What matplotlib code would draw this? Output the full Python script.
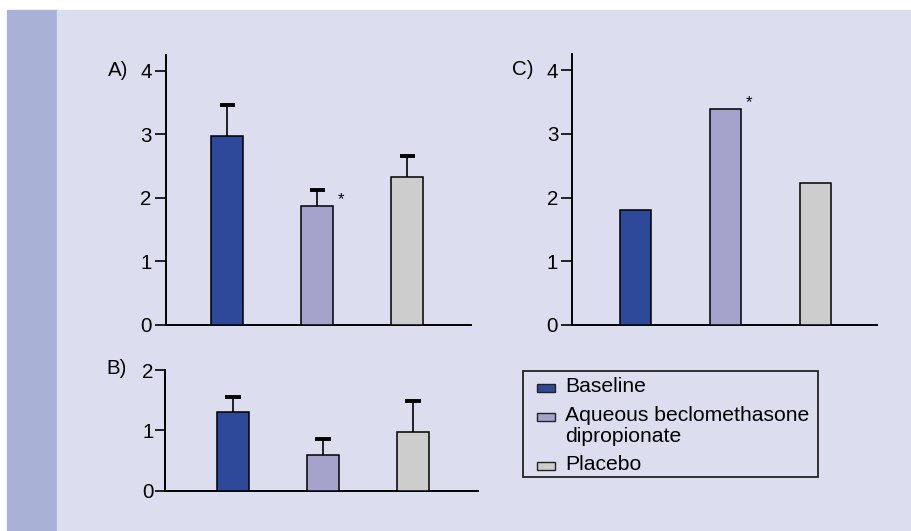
import matplotlib
matplotlib.use("Agg")
import matplotlib.pyplot as plt
from matplotlib.patches import Rectangle
import numpy as np

plt.rcParams['font.family'] = ['Liberation Sans', 'DejaVu Sans']

# data
groups = ["Baseline", "Aqueous beclomethasone\ndipropionate", "Placebo"]
colors = ["#2e4999", "#a5a3cc", "#cdcdcd"]

a_vals = [2.98, 1.88, 2.33]
a_err = [0.49, 0.24, 0.33]
b_vals = [1.30, 0.59, 0.97]
b_err = [0.25, 0.27, 0.51]
c_vals = [1.81, 3.39, 2.23]

W, H = 912, 531
fig = plt.figure(figsize=(W / 100, H / 100), dpi=100)
fig.patch.set_facecolor("white")


def fx(x):
    return x / W


def fy(y):
    return 1 - y / H


bg = "#dcdeef"
fig.patches.append(Rectangle((fx(7), 0), fx(57 - 7), fy(10),
                             transform=fig.transFigure, color="#a9b1d6", zorder=-2))
fig.patches.append(Rectangle((fx(57), 0), 1 - fx(57), fy(10),
                             transform=fig.transFigure, color=bg, zorder=-2))


def make_ax(left, right, bottom, top):
    ax = fig.add_axes([fx(left), fy(bottom), fx(right - left), (bottom - top) / H])
    ax.set_zorder(1)
    ax.patch.set_alpha(0)
    for s in ["top", "right"]:
        ax.spines[s].set_visible(False)
    for s in ["left", "bottom"]:
        ax.spines[s].set_linewidth(1.4)
    ax.set_xticks([])
    ax.tick_params(axis="y", length=8.2, width=1.2, pad=2, labelsize=14.8)
    return ax


def draw(ax, vals, err=None, star=None):
    x = np.arange(len(vals))
    ax.bar(x, vals, width=0.35, color=colors, edgecolor="black", linewidth=1.1, zorder=3)
    if err is not None:
        tops = np.array(vals) + np.array(err)
        ax.vlines(x, vals, tops, color="black", linewidth=1.2, zorder=2)
        ax.hlines(tops, x - 0.085, x + 0.085, color="black", linewidth=2.8, zorder=2)
    if star is not None:
        ax.annotate("*", xy=(star, vals[star]), xytext=(17, -1), textcoords="offset points",
                    ha="center", va="bottom", fontsize=12)
    return x


# panel A
axA = make_ax(166, 470.7, 325, 55)
draw(axA, a_vals, a_err, star=1)
axA.set_ylim(0, 4.25)
axA.set_xlim(-0.68, 2.706)
axA.set_yticks([0, 1, 2, 3, 4])

# panel B
axB = make_ax(165, 478.3, 490.7, 370)
draw(axB, b_vals, b_err)
axB.set_ylim(0, 2)
axB.set_xlim(-0.754, 2.727)
axB.set_yticks([0, 1, 2])
axB.tick_params(axis="y", length=7.2, pad=1)

# panel C
axC = make_ax(572.3, 876.7, 325, 54.3)
draw(axC, c_vals, star=1)
axC.set_ylim(0, 4.25)
axC.set_xlim(-0.704, 2.678)
axC.set_yticks([0, 1, 2, 3, 4])

fig.text(fx(128), fy(70), "A)", ha="right", va="center", fontsize=14.8)
fig.text(fx(127), fy(369), "B)", ha="right", va="center", fontsize=14.8)
fig.text(fx(533.5), fy(69.5), "C)", ha="right", va="center", fontsize=14.8)

# legend box, drawn by hand so the swatch sits on the first text line
fig.patches.append(Rectangle((fx(522.7), fy(477)), fx(817.7 - 522.7), (477 - 370.7) / H,
                             transform=fig.transFigure, facecolor="none",
                             edgecolor="#222222", linewidth=1.3, zorder=2))
row_base = [392.3, 421.3, 469.7]
for lab, col, yb in zip(groups, colors, row_base):
    fig.patches.append(Rectangle((fx(537.3), fy(yb)), fx(17.7), 8 / H,
                                 transform=fig.transFigure, facecolor=col,
                                 edgecolor="#222222", linewidth=1.0, zorder=2))
    lines = lab.split("\n")
    for k, line in enumerate(lines):
        fig.text(fx(565), fy(yb + 20.7 * k), line, ha="left", va="baseline",
                 fontsize=15.2)

fig.savefig("out.png", dpi=100)
